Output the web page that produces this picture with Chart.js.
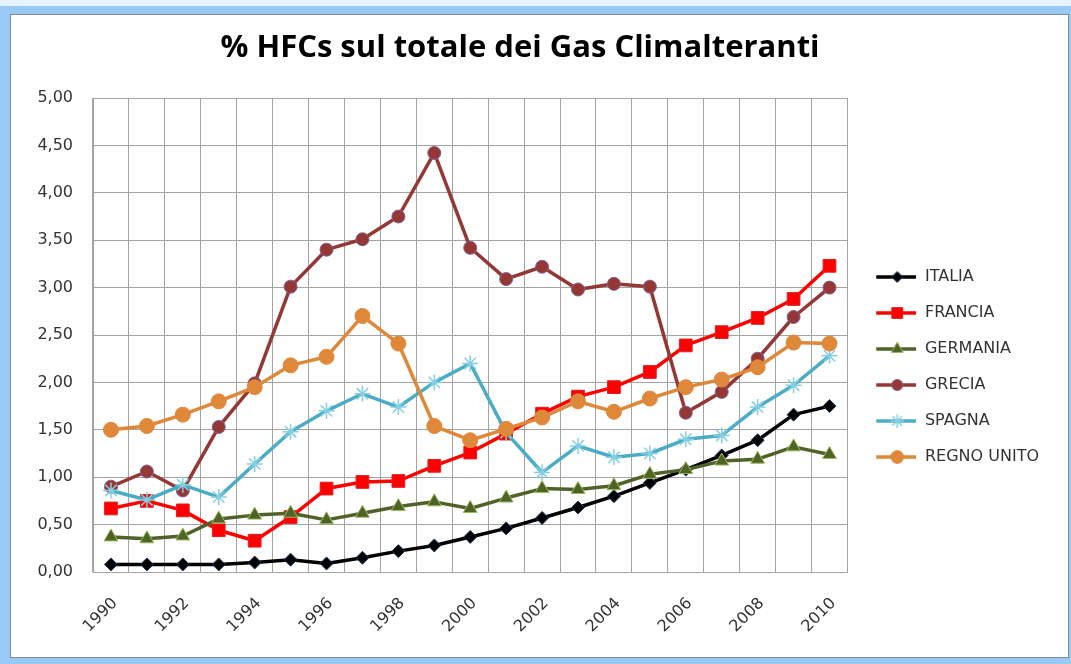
<!DOCTYPE html>
<html>
<head>
<meta charset="utf-8">
<script src="https://cdn.jsdelivr.net/npm/chart.js@4/dist/chart.umd.min.js"></script>
<style>
  html, body { margin: 0; padding: 0; }
  body { width: 1071px; height: 664px; background: #99c9f7; position: relative; overflow: hidden; }
  .top-strip { position: absolute; left: 0; top: 0; width: 1071px; height: 6px; background: #e9f3fd; }
  .frame { position: absolute; left: 10px; top: 14px; width: 1057px; height: 642px; background: #fff; border: 1px solid #8a8a8a; }
  canvas { display: block; }
</style>
</head>
<body>
<div class="top-strip"></div>
<div class="frame">
  <canvas id="hfcChart" width="1057" height="642"></canvas>
</div>
<script>
// anni (categorie) ed etichette dell'asse x (una ogni due anni)
const years = ['1990','1991','1992','1993','1994','1995','1996','1997','1998','1999','2000',
               '2001','2002','2003','2004','2005','2006','2007','2008','2009','2010'];
const xTickLabels = ['1990','1992','1994','1996','1998','2000','2002','2004','2006','2008','2010'];

// % HFCs sul totale, per paese
const italia     = [0.08, 0.08, 0.08, 0.08, 0.10, 0.13, 0.09, 0.15, 0.22, 0.28, 0.37, 0.46, 0.57, 0.68, 0.80, 0.94, 1.08, 1.23, 1.39, 1.66, 1.75];
const francia    = [0.67, 0.75, 0.65, 0.44, 0.33, 0.58, 0.88, 0.95, 0.96, 1.12, 1.26, 1.46, 1.67, 1.85, 1.95, 2.11, 2.39, 2.53, 2.68, 2.88, 3.23];
const germania   = [0.37, 0.35, 0.38, 0.56, 0.60, 0.62, 0.55, 0.62, 0.69, 0.74, 0.67, 0.78, 0.88, 0.87, 0.91, 1.03, 1.08, 1.17, 1.19, 1.32, 1.24];
const grecia     = [0.90, 1.06, 0.86, 1.53, 1.99, 3.01, 3.40, 3.51, 3.75, 4.42, 3.42, 3.09, 3.22, 2.98, 3.04, 3.01, 1.68, 1.90, 2.25, 2.69, 3.00];
const spagna     = [0.86, 0.76, 0.92, 0.79, 1.14, 1.48, 1.70, 1.88, 1.74, 2.00, 2.20, 1.47, 1.05, 1.33, 1.21, 1.25, 1.40, 1.44, 1.74, 1.97, 2.28];
const regnoUnito = [1.50, 1.54, 1.66, 1.80, 1.95, 2.18, 2.27, 2.70, 2.41, 1.54, 1.39, 1.51, 1.63, 1.80, 1.69, 1.83, 1.95, 2.03, 2.16, 2.42, 2.41];

const yMin = 0, yMax = 5, yStep = 0.5;

const gridColor = '#a3a3a3';
const textColor = '#333333';
const tickFont = { family: 'DejaVu Sans', size: 16 };

function makeSeries(label, data, color, style, radius, ptFill, ptBorder, order) {
  return {
    label: label,
    data: data,
    borderColor: color,
    backgroundColor: ptFill,
    borderWidth: 3.5,
    borderJoinStyle: 'round',
    borderCapStyle: 'round',
    tension: 0,
    pointStyle: style,
    pointRadius: radius,
    pointHoverRadius: radius,
    pointBackgroundColor: ptFill,
    pointBorderColor: ptBorder,
    pointBorderWidth: style === 'star' ? 1.5 : 1,
    order: order
  };
}

const datasets = [
  makeSeries('ITALIA', italia, '#000000', 'rectRot', 6.5, '#000000', '#1f3864', 6),
  makeSeries('FRANCIA', francia, '#ff0000', 'rect', 9, '#ff0000', '#e02020', 5),
  makeSeries('GERMANIA', germania, '#4f6228', 'triangle', 8, '#4f6228', '#9bbb59', 4),
  makeSeries('GRECIA', grecia, '#953735', 'circle', 6.5, '#953735', '#7f6090', 3),
  makeSeries('SPAGNA', spagna, '#4bacc6', 'star', 8, '#4bacc6', '#86cfe3', 2),
  makeSeries('REGNO UNITO', regnoUnito, '#e0883a', 'circle', 7.5, '#e0883a', '#e0883a', 1)
];

// piccola icona linea + marcatore per la legenda
function legendIcon(ds) {
  const c = document.createElement('canvas');
  c.width = 48;
  c.height = 18;
  const g = c.getContext('2d');
  g.strokeStyle = ds.borderColor;
  g.lineWidth = 3.5;
  g.beginPath();
  g.moveTo(8, 9);
  g.lineTo(48, 9);
  g.stroke();
  g.fillStyle = ds.pointBackgroundColor;
  g.strokeStyle = ds.pointBorderColor;
  g.lineWidth = ds.pointBorderWidth;
  const r = ds.pointRadius * 0.85;
  if (Chart.helpers && Chart.helpers.drawPoint) {
    Chart.helpers.drawPoint(g, { pointStyle: ds.pointStyle, radius: r, borderWidth: ds.pointBorderWidth, rotation: 0 }, 29, 9);
  } else {
    g.beginPath();
    g.arc(29, 9, r, 0, Math.PI * 2);
    g.fill();
  }
  return c;
}

const icons = datasets.map(legendIcon);

const ctx = document.getElementById('hfcChart');

new Chart(ctx, {
  type: 'line',
  data: {
    labels: years,
    datasets: datasets
  },
  options: {
    responsive: false,
    animation: false,
    devicePixelRatio: 1,
    layout: {
      // left negative so the title centre sits a bit left of the canvas centre
      padding: { left: -20, right: 19, top: 0, bottom: 0 }
    },
    scales: {
      x: {
        type: 'category',
        offset: true,
        grid: { offset: true, color: gridColor, lineWidth: 1, drawTicks: false },
        border: { color: gridColor },
        ticks: {
          autoSkip: false,
          minRotation: 45,
          maxRotation: 45,
          padding: 22,
          labelOffset: 4,
          color: textColor,
          font: tickFont,
          callback: function (value, index) {
            const lab = this.getLabelForValue(value);
            return xTickLabels.includes(lab) ? lab : '';
          }
        },
        afterFit: function (scale) { scale.height = 85; }
      },
      y: {
        min: yMin,
        max: yMax,
        grid: { color: gridColor, lineWidth: 1, drawTicks: false },
        border: { color: gridColor },
        ticks: {
          stepSize: yStep,
          padding: 20,
          color: textColor,
          font: tickFont,
          callback: function (value) { return value.toFixed(2).replace('.', ','); }
        },
        afterFit: function (scale) { scale.width = 102; }
      }
    },
    plugins: {
      title: {
        display: true,
        text: '% HFCs sul totale dei Gas Climalteranti',
        color: '#000000',
        font: { family: 'Open Sans', weight: 'bold', size: 31 },
        padding: { top: 14.4, bottom: 31.4 }
      },
      legend: {
        position: 'right',
        maxWidth: 221,
        title: { display: true, text: ' ', padding: { top: 47.6, bottom: 0 } },
        labels: {
          usePointStyle: true,
          pointStyleWidth: 49.5,
          padding: 20,
          color: textColor,
          font: { family: 'DejaVu Sans', size: 16 },
          sort: (a, b) => a.datasetIndex - b.datasetIndex,
          generateLabels: function (chart) {
            return chart.data.datasets.map((ds, i) => ({
              text: ds.label,
              datasetIndex: i,
              pointStyle: icons[i],
              fillStyle: ds.backgroundColor,
              strokeStyle: ds.borderColor,
              lineWidth: 0,
              fontColor: textColor,
              hidden: !chart.isDatasetVisible(i)
            }));
          }
        }
      },
      tooltip: { enabled: false }
    }
  }
});
</script>
</body>
</html>
